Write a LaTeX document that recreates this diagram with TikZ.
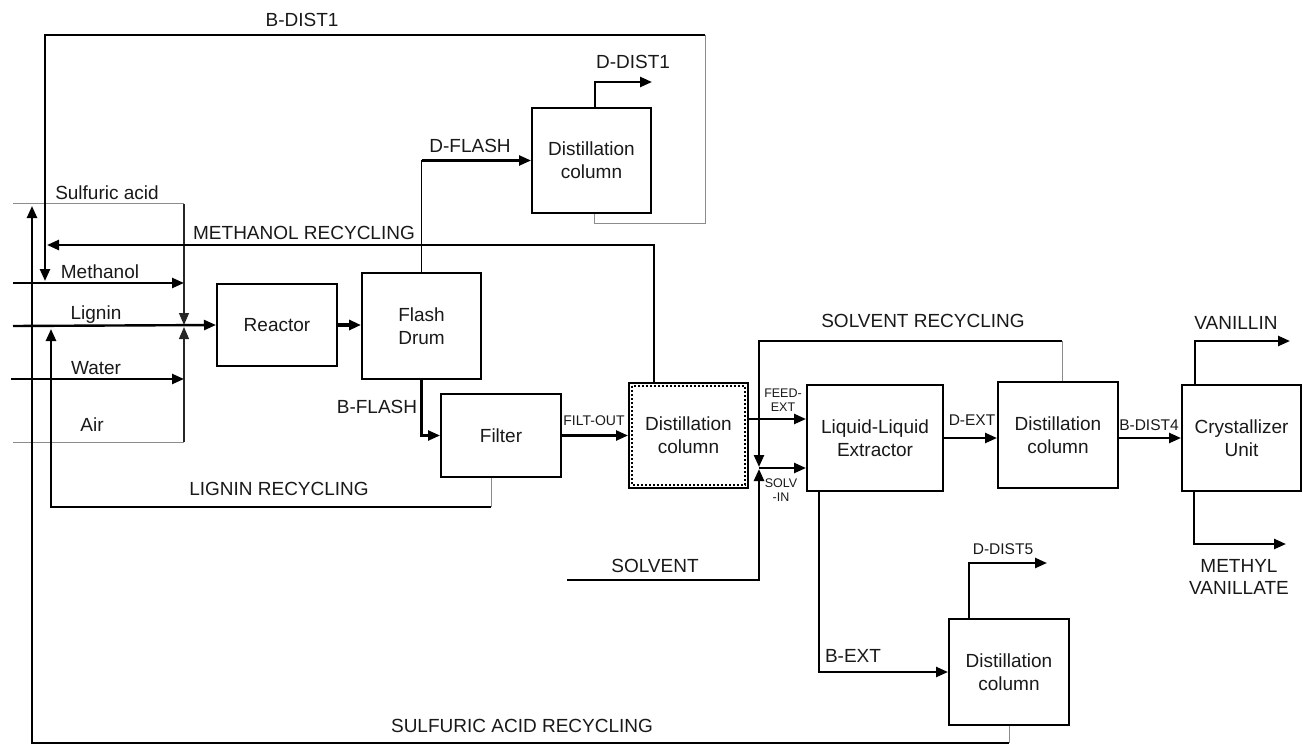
\documentclass[tikz,border=0pt]{standalone}
\usepackage{fontspec}
\setmainfont{Liberation Sans}
\usepackage{tikz}
\usetikzlibrary{arrows.meta,positioning,calc}
\definecolor{pline}{gray}{0.55}
\definecolor{ptext}{gray}{0.1}

\begin{document}
\begin{tikzpicture}[x=1pt,y=-1pt,
  unit/.style={draw,line width=2pt,inner sep=0pt,align=center,text=ptext,font=\fontsize{19}{23}\selectfont},
  lbl/.style={inner sep=0pt,align=center,text=ptext,font=\fontsize{19}{22}\selectfont},
  slbl/.style={lbl,font=\fontsize{15.5}{18}\selectfont},
  tlbl/.style={lbl,font=\fontsize{12.5}{14.5}\selectfont},
  arr/.style={-{Triangle[length=12pt,width=10pt]},line width=2.4pt},
  feed/.style={arr,line width=1.3pt,black!85},
  thin/.style={line width=1pt,pline}]
\useasboundingbox (0,0) rectangle (1303,746);
% process units
\node[unit,minimum width=120pt,minimum height=82pt] (reactor) at (277,325) {Reactor};
\node[unit,minimum width=119pt,minimum height=106pt] (flash) at (421.5,326) {Flash\\Drum};
\node[unit,minimum width=119pt,minimum height=105pt] (dist1) at (591.5,160.5) {Distillation\\column};
\node[unit,minimum width=120pt,minimum height=83pt] (filter) at (501,435.5) {Filter};
\node[unit,minimum width=119pt,minimum height=105pt] (dist2) at (688.5,435.5) {Distillation\\column};
\draw[dotted,line width=2pt] ([shift={(4,4)}]dist2.north west) rectangle ([shift={(-4,-4)}]dist2.south east);
\node[unit,minimum width=136pt,minimum height=106pt] (lle) at (875,438) {Liquid-Liquid\\Extractor};
\node[unit,minimum width=120pt,minimum height=106pt] (dist4) at (1058,435) {Distillation\\column};
\node[unit,minimum width=119pt,minimum height=106pt] (cryst) at (1241.5,438) {Crystallizer\\Unit};
\node[unit,minimum width=120pt,minimum height=106pt] (dist5) at (1009,672) {Distillation\\column};
% feeds, junctions and free ends
\coordinate (sulf) at (13,204); \coordinate (meth) at (13,283); \coordinate (lign) at (13,326);
\coordinate (watr) at (11,379); \coordinate (air) at (13,442); \coordinate (mix) at (184,326);
\coordinate (solv) at (567,580); \coordinate (sj) at (759,468);
\coordinate (ddist1) at (652,82); \coordinate (vanout) at (1290,341);
\coordinate (mvout) at (1286,544); \coordinate (ddist5) at (1047,563);
% fresh feeds
\draw[thin] (sulf) -- (sulf -| mix); \draw[feed] (sulf -| mix) -- ([yshift=1]mix);
\draw[thin] (air) -- (air -| mix); \draw[feed] (air -| mix) -- ([yshift=-1]mix);
\draw[arr] (meth) -- (meth -| mix); \draw[arr] (watr) -- (watr -| mix);
\draw[arr] (lign) -- (reactor.west);
\draw[arr,line width=3.4pt] (reactor.east) -- (reactor.east -| flash.west);
% flash and filter
\draw[line width=1.3pt] (flash.north) -- (flash.north |- dist1.west);
\draw[arr] (flash.north |- dist1.west) -- (dist1.west);
\draw[arr] ([xshift=3.5]dist1.north) |- (ddist1);
\draw[arr] (flash.south) |- (filter.west);
\draw[arr] (filter.east) -- (filter.east -| dist2.west);
% recycles
\draw[thin] (dist1.south -| 594,0) -- (594,223) -- (705,223) -- (705,35);
\draw[arr] (705,35) -- (45,35) -- (45,281);
\draw[arr] (dist2.north -| 654,0) |- (47,245);
\draw[thin] (filter.south -| 491,0) -- (491,507);
\draw[arr] (491,507) -- (51,507) -- (51,329);
\draw[thin] (dist5.south) -- (dist5.south |- 0,743);
\draw[arr] (dist5.south |- 0,743) -- (32,743) -- (32,206);
% extraction section
\draw[arr] (dist2.east |- 0,419) -- (lle.west |- 0,419);
\draw[thin] (dist4.north -| 1062,0) -- (1062,341);
\draw[arr] (1062,341) -- (sj |- 0,341) -- ([yshift=1]sj);
\draw[arr] (solv) -| ([yshift=-1]sj);
\draw[arr] (sj) -- (sj -| lle.west);
\draw[arr] (lle.east) -- (lle.east -| dist4.west);
\draw[arr] (dist4.east |- cryst.west) -- (cryst.west);
\draw[arr] (cryst.north -| 1195,0) |- (vanout);
\draw[arr] (cryst.south -| 1194,0) |- (mvout);
\draw[arr] (lle.south -| 819,0) |- (dist5.west);
\draw[arr] (dist5.north -| 969,0) |- (ddist5);
% stream labels
\node[lbl] (l-bdist1) at (302,20) {B-DIST1};
\node[lbl] (l-sulf) at (107,193) {Sulfuric acid};
\node[lbl] (l-mrec) at (304,233) {METHANOL RECYCLING};
\node[lbl] (l-meth) at (100,272) {Methanol};
\node[lbl] (l-lign) at (96,315) {Lignin};
\node[lbl] (l-watr) at (96,368) {Water};
\node[lbl] (l-air) at (92,425) {Air};
\node[lbl] (l-dflash) at (470,146) {D-FLASH};
\node[lbl] (l-ddist1) at (633,62) {D-DIST1};
\node[lbl] (l-bflash) at (377,407) {B-FLASH};
\node[slbl,font=\fontsize{14}{16}\selectfont] (l-filt) at (594,421) {FILT-OUT};
\node[lbl] (l-lrec) at (279,489) {LIGNIN RECYCLING};
\node[tlbl] (l-feed) at (783,400) {FEED-\\EXT};
\node[tlbl] (l-solvin) at (781,490) {SOLV\\-IN};
\node[lbl] (l-srec) at (923,321) {SOLVENT RECYCLING};
\node[slbl] (l-dext) at (972,420) {D-EXT};
\node[slbl] (l-bdist4) at (1149,425) {B-DIST4};
\node[lbl] (l-van) at (1236,323) {VANILLIN};
\node[lbl] (l-mv) at (1239,577) {METHYL\\VANILLATE};
\node[lbl] (l-solv) at (655,566) {SOLVENT};
\node[lbl] (l-bext) at (853,656) {B-EXT};
\node[slbl] (l-ddist5) at (1003,549) {D-DIST5};
\node[lbl] (l-sarec) at (522,726) {SULFURIC ACID RECYCLING};
\end{tikzpicture}
\end{document}
